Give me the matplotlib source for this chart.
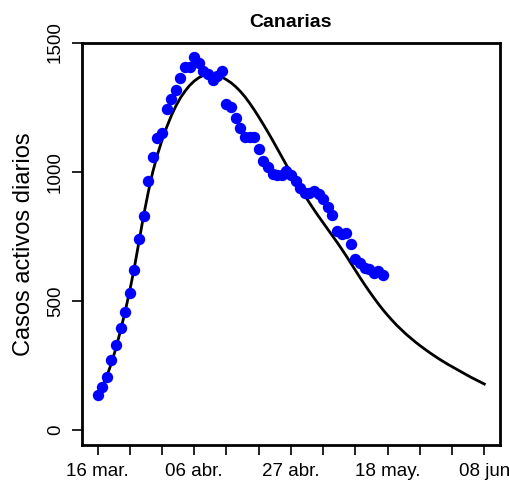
import numpy as np
import matplotlib
matplotlib.use("Agg")
import matplotlib.pyplot as plt

plt.rcParams['font.family'] = ['Liberation Sans', 'DejaVu Sans']

# daily active cases, Canarias, from 16 mar.
casos = [135, 168, 206, 271, 329, 394, 458, 529, 620, 740,
         829, 962, 1055, 1130, 1149, 1242, 1280, 1317, 1361, 1407,
         1404, 1442, 1420, 1388, 1379, 1355, 1371, 1390, 1262, 1250,
         1207, 1168, 1136, 1136, 1133, 1087, 1043, 1020, 991, 987,
         987, 1004, 987, 962, 938, 916, 919, 927, 914, 894,
         862, 833, 772, 759, 764, 719, 661, 645, 626, 625,
         607, 617, 600]

# fitted model, one value per day from 16 mar. to 08 jun
ajuste = [135, 168, 208, 258, 318, 386, 460, 540, 630, 730,
          830, 920, 1000, 1066, 1122, 1172, 1216, 1254, 1286, 1312,
          1334, 1351, 1364, 1373, 1377, 1377, 1373, 1366, 1356, 1344,
          1329, 1311, 1290, 1266, 1240, 1212, 1183, 1153, 1122, 1090,
          1058, 1026, 995, 965, 936, 908, 880, 853, 827, 802,
          777, 752, 727, 701, 674, 646, 618, 590, 563, 537,
          512, 488, 465, 444, 424, 405, 388, 371, 356, 341,
          327, 314, 301, 289, 277, 266, 255, 245, 235, 225,
          215, 205, 196, 187, 178]

etiquetas = ["16 mar.", "06 abr.", "27 abr.", "18 may.", "08 jun"]
yticks = [0, 500, 1000, 1500]

dias_casos = np.arange(len(casos))
dias_ajuste = np.arange(len(ajuste))

fig = plt.figure(figsize=(5.10, 4.82), dpi=100)
ax = fig.add_axes([0.161, 0.0768, 0.819, 0.835])

ax.plot(dias_ajuste, ajuste, color='black', lw=2.0, zorder=2)
ax.plot(dias_casos, casos, 'o', color='#0000ff', ms=8.2, mec='none', zorder=3)

n = len(ajuste) - 1
ax.set_xlim(-0.04 * n, n * 1.04)
ax.set_ylim(-58, 1500)

ax.set_xticks(np.arange(0, n + 1, 7))
lab = [''] * len(ax.get_xticks())
for i, t in enumerate(etiquetas):
    lab[i * 3] = t
ax.set_xticklabels(lab)
ax.set_yticks(yticks)
ax.set_yticklabels([str(v) for v in yticks])

ax.tick_params(axis='both', direction='out', length=7.2, width=1.2,
               labelsize=13.5, pad=6)
ax.tick_params(axis='y', labelrotation=90)
for t in ax.get_yticklabels():
    t.set_va('center')

for s in ax.spines.values():
    s.set_linewidth(2.0)

ax.set_ylabel("Casos activos diarios", fontsize=17, va='center')
ax.yaxis.set_label_coords(-0.139, 0.5)
ax.set_title("Canarias", fontsize=14, fontweight='bold', pad=11)

fig.savefig("out.png", dpi=100)
